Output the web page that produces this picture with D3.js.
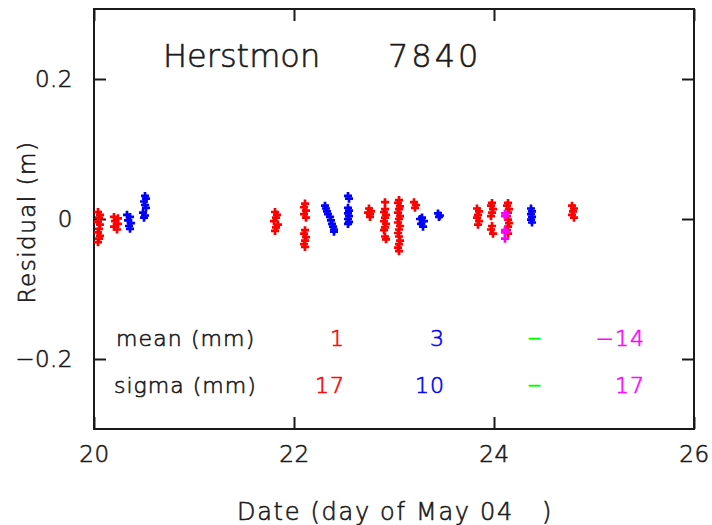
<!DOCTYPE html>
<html>
<head>
<meta charset="utf-8">
<script src="https://cdn.jsdelivr.net/npm/d3@7"></script>
<style>
  html, body { margin: 0; padding: 0; background: #fff; }
  svg { display: block; }
  text { font-family: "DejaVu Sans", "Liberation Sans", sans-serif; font-weight: 200; }
</style>
</head>
<body>
<svg id="chart" width="712" height="525"></svg>
<script>
// Station residuals, [day of May 2004, residual in metres]
const redPoints = [
  [20.04, 0.010], [20.06, 0.006], [20.05, 0.002], [20.04, -0.004], [20.06, -0.008],
  [20.05, -0.014], [20.04, -0.019], [20.06, -0.024], [20.05, -0.028], [20.04, -0.033],
  [20.20, 0.003], [20.24, 0.001], [20.21, -0.003], [20.24, -0.007], [20.20, -0.011], [20.23, -0.015],
  [21.81, 0.010], [21.83, 0.006], [21.82, 0.002], [21.80, -0.003], [21.84, -0.008], [21.82, -0.012], [21.81, -0.017],
  [22.11, 0.022], [22.10, 0.017], [22.12, 0.012], [22.10, 0.007], [22.12, 0.002],
  [22.11, -0.016], [22.10, -0.021], [22.12, -0.026], [22.11, -0.031], [22.10, -0.036], [22.11, -0.040],
  [22.75, 0.015], [22.77, 0.011], [22.76, 0.007], [22.74, 0.009], [22.76, 0.003],
  [22.91, 0.024], [22.91, 0.014], [22.90, 0.010], [22.92, 0.006], [22.91, 0.002], [22.90, -0.003],
  [22.92, -0.007], [22.91, -0.012], [22.90, -0.016], [22.91, -0.025], [22.92, -0.029],
  [23.05, 0.027], [23.04, 0.023], [23.06, 0.018], [23.05, 0.014], [23.04, 0.009], [23.06, 0.004],
  [23.05, 0.000], [23.04, -0.005], [23.06, -0.010], [23.05, -0.015], [23.04, -0.020], [23.05, -0.025],
  [23.06, -0.031], [23.05, -0.036], [23.04, -0.041], [23.05, -0.046],
  [23.20, 0.024], [23.22, 0.020], [23.21, 0.016],
  [23.83, 0.015], [23.85, 0.011], [23.84, 0.006], [23.83, 0.002], [23.85, -0.003], [23.84, -0.008],
  [23.98, 0.023], [23.97, 0.019], [23.99, 0.014], [23.98, 0.009], [23.97, 0.004],
  [23.98, -0.010], [23.97, -0.015], [23.99, -0.021],
  [24.14, 0.023], [24.13, 0.019], [24.15, 0.014], [24.14, 0.009], [24.13, 0.004], [24.14, -0.001],
  [24.15, -0.006], [24.14, -0.011], [24.13, -0.016], [24.14, -0.021],
  [24.78, 0.019], [24.80, 0.015], [24.79, 0.011], [24.78, 0.006], [24.80, 0.002]
];
const bluePoints = [
  [20.33, 0.006], [20.36, 0.003], [20.34, -0.002], [20.37, -0.006], [20.35, -0.010], [20.36, -0.014],
  [20.51, 0.033], [20.52, 0.029], [20.50, 0.025], [20.51, 0.020], [20.52, 0.016],
  [20.49, 0.009], [20.51, 0.005], [20.50, 0.002],
  [22.31, 0.019], [22.32, 0.015], [22.33, 0.011], [22.34, 0.007], [22.36, 0.003],
  [22.37, -0.002], [22.38, -0.007], [22.39, -0.011], [22.40, -0.015], [22.40, -0.018],
  [22.54, 0.033], [22.55, 0.029], [22.54, 0.016], [22.55, 0.012], [22.54, 0.008],
  [22.55, 0.004], [22.54, 0.000], [22.55, -0.004], [22.54, -0.007],
  [23.26, 0.000], [23.28, 0.002], [23.30, -0.003], [23.27, -0.007], [23.29, -0.011],
  [23.44, 0.008], [23.46, 0.005], [23.45, 0.003],
  [24.37, 0.015], [24.38, 0.011], [24.37, 0.007], [24.38, 0.003], [24.37, -0.001], [24.38, -0.005]
];
const magentaPoints = [
  [24.11, 0.008], [24.11, 0.004], [24.11, -0.016], [24.11, -0.019], [24.11, -0.028]
];

const seriesColors = ["#ff0000", "#0000ff", "#00ff00", "#ff00ff"];
const meanValues = ["1", "3", "\u2013", "\u221214"];
const sigmaValues = ["17", "10", "\u2013", "17"];
const xTicks = [20, 22, 24, 26];
const yTicks = [-0.2, 0, 0.2];

const stationName = "Herstmon";
const stationCode = "7840";

const svg = d3.select("#chart");
const plotLeft = 94, plotRight = 694, plotTop = 9, plotBottom = 429;

const x = d3.scaleLinear().domain([20, 26]).range([plotLeft, plotRight]);
const y = d3.scaleLinear().domain([-0.3, 0.3]).range([plotBottom, plotTop]);

const ink = "#1a1a1a";
const fontStack = "DejaVu Sans, Liberation Sans, sans-serif";
const fmtY = d => d === 0 ? "0" : d3.format(".1f")(d);

// Thin text gets a hairline outline in its own colour so strokes read ~2px wide
function inked(sel, color) {
  return sel.attr("fill", color).attr("stroke", color).attr("stroke-width", 0.6);
}

// Axes: ticks point into the plot, labels only on bottom and left
const gB = svg.append("g").attr("transform", `translate(0,${plotBottom})`)
  .call(d3.axisBottom(x).tickValues(xTicks).tickSize(-12).tickPadding(17).tickFormat(d3.format("d")));
const gT = svg.append("g").attr("transform", `translate(0,${plotTop})`)
  .call(d3.axisTop(x).tickValues(xTicks).tickSize(-12).tickFormat(""));
const gL = svg.append("g").attr("transform", `translate(${plotLeft},0)`)
  .call(d3.axisLeft(y).tickValues(yTicks).tickSize(-12).tickPadding(21).tickFormat(fmtY));
const gR = svg.append("g").attr("transform", `translate(${plotRight},0)`)
  .call(d3.axisRight(y).tickValues(yTicks).tickSize(-12).tickFormat(""));

[gB, gT, gL, gR].forEach(g => {
  g.select(".domain").remove();
  g.selectAll(".tick line").attr("stroke", ink).attr("stroke-width", 2);
  inked(g.selectAll(".tick text"), ink).attr("font-size", 23)
    .attr("font-family", fontStack).attr("font-weight", 200).style("letter-spacing", "0.5px");
});

// Frame
svg.append("rect").attr("x", plotLeft).attr("y", plotTop)
  .attr("width", plotRight - plotLeft).attr("height", plotBottom - plotTop)
  .attr("fill", "none").attr("stroke", ink).attr("stroke-width", 2);

// Data markers
const cross = d3.symbol().type(d3.symbolCross).size(36);
function drawSeries(points, color) {
  svg.append("g").selectAll("path").data(points).join("path")
    .attr("transform", d => `translate(${x(d[0])},${y(d[1])})`)
    .attr("d", cross)
    .attr("fill", color);
}
drawSeries(redPoints, seriesColors[0]);
drawSeries(bluePoints, seriesColors[1]);
drawSeries(magentaPoints, seriesColors[3]);

// Station title
inked(svg.append("text"), ink).attr("x", 163).attr("y", 67).attr("font-size", 32)
  .text(stationName);
inked(svg.append("text"), ink).attr("x", 388).attr("y", 67).attr("font-size", 32)
  .style("letter-spacing", "3px").text(stationCode);

// Statistics table
const statRows = [
  { label: "mean (mm)", values: meanValues, y: 346, lx: 116, ls: 1.1 },
  { label: "sigma (mm)", values: sigmaValues, y: 393, lx: 114, ls: 1.0 }
];
const colRight = [345, 445, null, 645];
const greenCenter = 535;
statRows.forEach(r => {
  inked(svg.append("text"), ink).attr("x", r.lx).attr("y", r.y).attr("font-size", 22)
    .style("letter-spacing", r.ls + "px").text(r.label);
  r.values.forEach((v, i) => {
    const t = inked(svg.append("text"), seriesColors[i]).attr("y", r.y).attr("font-size", 22)
      .style("letter-spacing", "1px").text(v);
    if (colRight[i] === null) t.attr("x", greenCenter).attr("text-anchor", "middle").attr("font-size", 28);
    else t.attr("x", colRight[i]).attr("text-anchor", "end");
  });
});

// Axis titles
inked(svg.append("text"), ink).attr("x", 395).attr("y", 520).attr("text-anchor", "middle")
  .attr("font-size", 24).style("letter-spacing", "1.7px")
  .style("white-space", "pre").text("Date (day of May 04   )");
inked(svg.append("text"), ink).attr("transform", "translate(35,222) rotate(-90)")
  .attr("text-anchor", "middle").attr("font-size", 23)
  .style("letter-spacing", "1.5px").text("Residual (m)");
</script>
</body>
</html>
